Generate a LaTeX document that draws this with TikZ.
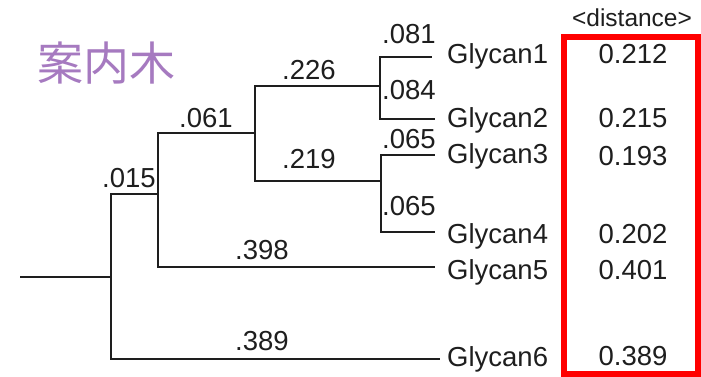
\documentclass[tikz,border=0pt]{standalone}
\usepackage{fontspec}
\setmainfont{Liberation Sans}
\newfontfamily\cjkfont{Noto Sans CJK JP}
\definecolor{titlepurple}{RGB}{166,122,192}
\definecolor{ink}{RGB}{30,30,30}
\begin{document}
\begin{tikzpicture}[x=1pt,y=-1pt,
  branch/.style={draw=ink,line width=2.6pt,line cap=rect,line join=miter},
  lbl/.style={inner sep=0pt,anchor=base,text=ink,font=\fontsize{27.5}{30}\selectfont},
  leaf/.style={inner sep=0pt,anchor=base west,text=ink,font=\fontsize{27.5}{30}\selectfont},
  dist/.style={inner sep=0pt,anchor=base,text=ink,font=\fontsize{27.5}{30}\selectfont},
  redbox/.style={draw=red,line width=6pt}]
\useasboundingbox (0,0) rectangle (701,377);
\fill[white] (0,0) rectangle (701,377);

% title
\node[inner sep=0pt,text=titlepurple,font=\cjkfont\fontsize{46}{50}\selectfont] (title) at (106,63) {案内木};

% tree coordinates
\coordinate (root) at (21,277);
\coordinate (A) at (111,277);
\coordinate (B) at (158,194);
\coordinate (C) at (255,133);
\coordinate (D) at (380,86);
\coordinate (E) at (381,181);
\coordinate (L1) at (431,57);
\coordinate (L2) at (434,119);
\coordinate (L3) at (434,155);
\coordinate (L4) at (434,232);
\coordinate (L5) at (434,267);
\coordinate (L6) at (439,359);

\draw[branch] (root) -- (A);
\draw[branch] (A) |- (B);
\draw[branch] (A) |- (L6);
\draw[branch] (B) |- (C);
\draw[branch] (B) |- (L5);
\draw[branch] (C) |- (D);
\draw[branch] (C) |- (E);
\draw[branch] (D) |- (L1);
\draw[branch] (D) |- (L2);
\draw[branch] (E) |- (L3);
\draw[branch] (E) |- (L4);

% branch lengths
\node[lbl] (b1) at (409,44) {.081};
\node[lbl] (b2) at (409,100) {.084};
\node[lbl] (b3) at (409,148) {.065};
\node[lbl] (b4) at (409,215) {.065};
\node[lbl] (b5) at (309,80) {.226};
\node[lbl] (b6) at (309,168) {.219};
\node[lbl] (b7) at (206,128) {.061};
\node[lbl] (b8) at (129,187) {.015};
\node[lbl] (b9) at (262,259) {.398};
\node[lbl] (b10) at (262,350) {.389};

% leaf names
\node[leaf] (g1) at (447,64) {Glycan1};
\node[leaf] (g2) at (447,128) {Glycan2};
\node[leaf] (g3) at (447,164) {Glycan3};
\node[leaf] (g4) at (447,243) {Glycan4};
\node[leaf] (g5) at (447,279) {Glycan5};
\node[leaf] (g6) at (447,366) {Glycan6};

% distances
\node[inner sep=0pt,anchor=base,text=ink,font=\fontsize{24.5}{27}\selectfont] (dh) at (632,27) {<distance>};
\draw[redbox] (564,37) rectangle (698,374);
\node[dist] (d1) at (633,64) {0.212};
\node[dist] (d2) at (633,128) {0.215};
\node[dist] (d3) at (633,165) {0.193};
\node[dist] (d4) at (633,243) {0.202};
\node[dist] (d5) at (633,279) {0.401};
\node[dist] (d6) at (633,365) {0.389};
\end{tikzpicture}
\end{document}
